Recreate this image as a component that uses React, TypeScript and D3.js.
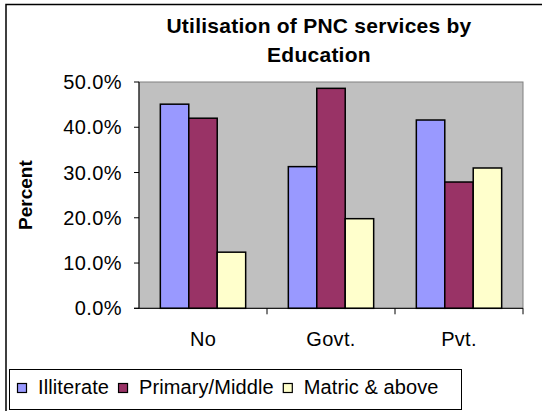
import React, { useEffect, useRef } from "react";
import * as d3 from "d3";

const categories = ["No", "Govt.", "Pvt."];
const seriesNames = ["Illiterate", "Primary/Middle", "Matric & above"];
const illiterate = [45.1, 31.3, 41.6];
const primaryMiddle = [42.0, 48.6, 27.9];
const matricAbove = [12.4, 19.8, 31.0];
const yTicks = [0, 10, 20, 30, 40, 50];
const titleLines = ["Utilisation of PNC services by", "Education"];
const yAxisTitle = "Percent";
const colors = ["#9999FF", "#993366", "#FFFFCC"];

export default function App() {
  const ref = useRef<SVGSVGElement | null>(null);

  useEffect(() => {
    const svg = d3.select(ref.current);
    svg.selectAll("*").remove();
    const font = "'Liberation Sans', Arial, sans-serif";
    const W = 542, H = 411;
    svg.append("rect").attr("x", 0).attr("y", 0).attr("width", W).attr("height", H).attr("fill", "#fff");
    // outer chart border
    svg.append("rect").attr("x", 6).attr("y", 4.5).attr("width", 700).attr("height", 700)
      .attr("fill", "none").attr("stroke", "#000").attr("stroke-width", 1.5);

    const left = 139, right = 523, top = 82, bottom = 308.3;
    const x = d3.scaleBand<string>().domain(categories).range([left, right]);
    const y = d3.scaleLinear().domain([0, 50]).range([bottom, top]);

    // plot area
    svg.append("rect").attr("x", left).attr("y", top).attr("width", right - left).attr("height", bottom - top)
      .attr("fill", "#C0C0C0").attr("stroke", "#808080").attr("stroke-width", 1);

    // bars
    const data = [illiterate, primaryMiddle, matricAbove];
    const bw = x.bandwidth() / 4.5;
    const inner = d3.scaleBand<number>().domain([0, 1, 2]).range([0, bw * 3]).padding(0);
    data.forEach((vals, si) => {
      svg.append("g").selectAll("rect").data(vals).join("rect")
        .attr("x", (_d, i) => (x(categories[i]) as number) + bw * 0.75 + (inner(si) as number))
        .attr("y", (d) => y(d))
        .attr("width", inner.bandwidth())
        .attr("height", (d) => y(0) - y(d))
        .attr("fill", colors[si])
        .attr("stroke", "#000")
        .attr("stroke-width", 1.5);
    });

    // axes lines
    svg.append("line").attr("x1", left).attr("x2", left).attr("y1", top).attr("y2", bottom)
      .attr("stroke", "#000").attr("stroke-width", 1);
    svg.append("line").attr("x1", left - 5).attr("x2", right).attr("y1", bottom).attr("y2", bottom)
      .attr("stroke", "#000").attr("stroke-width", 1);

    // y ticks
    const yg = svg.append("g");
    yTicks.forEach((t) => {
      yg.append("line").attr("x1", left - 5).attr("x2", left).attr("y1", y(t)).attr("y2", y(t))
        .attr("stroke", "#000").attr("stroke-width", 1);
      yg.append("text").attr("x", 122).attr("y", y(t) + 7).attr("text-anchor", "end")
        .attr("font-family", font).attr("font-size", 20).attr("letter-spacing", 0.4)
        .attr("fill", "#000").text(d3.format(".1f")(t) + "%");
    });

    // x ticks at category boundaries
    const bounds = categories.map((c) => x(c) as number).concat([right]);
    bounds.forEach((b, i) => {
      if (i === 0) return;
      svg.append("line").attr("x1", b).attr("x2", b).attr("y1", bottom).attr("y2", bottom + 6)
        .attr("stroke", "#000").attr("stroke-width", 1);
    });
    categories.forEach((c) => {
      svg.append("text").attr("x", (x(c) as number) + x.bandwidth() / 2).attr("y", 345.5)
        .attr("text-anchor", "middle").attr("font-family", font).attr("font-size", 20)
        .attr("letter-spacing", 0.3).attr("fill", "#000").text(c);
    });

    // title
    titleLines.forEach((line, i) => {
      svg.append("text").attr("x", 319).attr("y", 33 + i * 29).attr("text-anchor", "middle")
        .attr("font-family", font).attr("font-size", 21).attr("font-weight", "bold")
        .attr("letter-spacing", 0.25).attr("fill", "#000").text(line);
    });

    // y axis title
    svg.append("text").attr("transform", `translate(32,${(top + bottom) / 2}) rotate(-90)`)
      .attr("text-anchor", "middle").attr("font-family", font).attr("font-size", 19)
      .attr("font-weight", "bold").attr("fill", "#000").text(yAxisTitle);

    // legend
    svg.append("rect").attr("x", 9.5).attr("y", 369.5).attr("width", 452).attr("height", 40)
      .attr("fill", "#fff").attr("stroke", "#000").attr("stroke-width", 1);
    let cx = 17;
    seriesNames.forEach((name, i) => {
      svg.append("rect").attr("x", cx + 0.5).attr("y", 383.5).attr("width", 9).attr("height", 9)
        .attr("fill", colors[i]).attr("stroke", "#000").attr("stroke-width", 1.2);
      const t = svg.append("text").attr("x", cx + 21).attr("y", 394)
        .attr("font-family", font).attr("font-size", 20).attr("letter-spacing", 0.1)
        .attr("fill", "#000").text(name);
      const len = (t.node() as SVGTextElement).getComputedTextLength();
      cx = cx + 21 + len + 9;
    });
  }, []);

  return (
    <svg ref={ref} width={542} height={411}
      style={{ position: "fixed", left: 0, top: 0, display: "block" }} />
  );
}
